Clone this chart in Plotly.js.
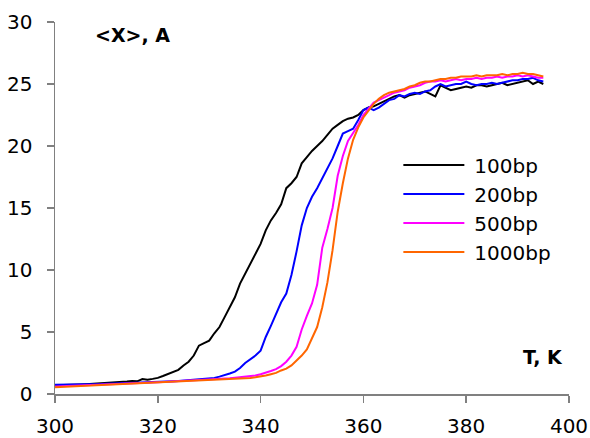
<!DOCTYPE html>
<html>
<head>
<meta charset="utf-8">
<script src="https://cdn.plot.ly/plotly-3.0.1.min.js"></script>
<style>html,body{margin:0;padding:0;background:#fff;}#chart{width:590px;height:438px;}</style>
</head>
<body>
<div id="chart"></div>
<script>
const seriesNames = ["100bp", "200bp", "500bp", "1000bp"];
const seriesColors = ["#000000", "#0000ff", "#ff00ff", "#ff6600"];
const temperature = [];
for (let t = 300; t <= 395; t++) temperature.push(t);

const x100 = [
 0.70,0.70,0.72,0.73,0.75,0.76,0.78,0.80,0.82,0.85,
 0.88,0.92,0.95,0.97,1.00,1.05,1.02,1.20,1.15,1.22,
 1.30,1.45,1.60,1.75,1.95,2.30,2.60,3.10,3.90,4.10,
 4.30,4.90,5.40,6.20,7.00,7.80,8.90,9.70,10.50,11.20,
 12.10,13.20,14.00,14.60,15.30,16.60,17.00,17.50,18.60,19.10,
 19.60,20.00,20.40,20.90,21.40,21.70,22.00,22.20,22.30,22.50,
 22.90,23.10,23.20,23.40,23.60,23.80,24.00,24.10,23.90,24.10,
 24.20,24.30,24.40,24.20,24.00,24.90,24.70,24.50,24.60,24.70,
 24.80,24.70,24.90,24.90,24.80,24.90,25.00,25.10,24.90,25.00,
 25.10,25.20,25.30,25.00,25.20,25.00];
const x200 = [
 0.75,0.75,0.75,0.75,0.76,0.76,0.77,0.78,0.78,0.80,
 0.82,0.83,0.85,0.86,0.88,0.90,0.92,0.93,0.95,0.97,
 1.00,1.00,1.02,1.03,1.05,1.08,1.10,1.12,1.15,1.20,
 1.25,1.30,1.40,1.50,1.65,1.80,2.10,2.50,2.80,3.10,
 3.50,4.60,5.50,6.50,7.40,8.10,9.60,11.50,13.60,15.00,
 15.90,16.60,17.40,18.30,19.00,20.00,21.00,21.20,21.40,22.10,
 22.90,23.10,22.90,23.10,23.40,23.70,23.80,24.10,24.00,24.20,
 24.30,24.20,24.40,24.50,24.80,25.00,24.80,24.90,25.00,25.00,
 25.20,25.00,24.90,25.00,25.00,25.10,25.00,25.10,25.20,25.30,
 25.30,25.40,25.40,25.50,25.30,25.20];
const x500 = [
 0.60,0.62,0.63,0.65,0.66,0.68,0.70,0.71,0.72,0.74,
 0.76,0.78,0.80,0.82,0.84,0.86,0.88,0.90,0.92,0.94,
 0.95,0.96,0.98,1.00,1.02,1.04,1.06,1.08,1.10,1.12,
 1.15,1.18,1.20,1.24,1.28,1.32,1.36,1.40,1.45,1.50,
 1.60,1.70,1.85,2.00,2.25,2.60,3.10,3.80,5.20,6.30,
 7.30,8.80,11.80,13.30,15.00,17.60,19.20,20.40,21.00,21.70,
 22.50,23.00,23.50,23.70,23.90,24.10,24.30,24.40,24.50,24.70,
 24.80,24.90,25.10,25.20,25.20,25.30,25.20,25.30,25.40,25.30,
 25.40,25.40,25.50,25.40,25.50,25.50,25.60,25.50,25.60,25.60,
 25.70,25.60,25.70,25.60,25.50,25.50];
const x1000 = [
 0.55,0.58,0.60,0.62,0.64,0.65,0.67,0.68,0.70,0.72,
 0.73,0.75,0.77,0.78,0.80,0.82,0.84,0.85,0.87,0.88,
 0.90,0.92,0.94,0.96,0.98,1.00,1.02,1.04,1.06,1.08,
 1.10,1.12,1.14,1.16,1.18,1.20,1.23,1.26,1.30,1.35,
 1.40,1.50,1.60,1.70,1.90,2.05,2.30,2.70,3.10,3.60,
 4.50,5.40,7.00,9.00,11.60,14.70,17.00,19.00,20.50,21.50,
 22.30,22.90,23.40,23.80,24.10,24.30,24.40,24.50,24.60,24.80,
 24.90,25.10,25.20,25.20,25.30,25.40,25.40,25.50,25.50,25.60,
 25.60,25.60,25.70,25.60,25.70,25.70,25.70,25.80,25.70,25.80,
 25.80,25.90,25.80,25.80,25.70,25.60];
const seriesValues = [x100, x200, x500, x1000];

const traces = seriesValues.map((ys, i) => ({
  x: temperature, y: ys, type: 'scatter', mode: 'lines',
  name: seriesNames[i],
  line: {color: seriesColors[i], width: 2}
}));

const fam = 'DejaVu Sans, Arial, sans-serif';
const tickFont = {family: fam, size: 20, color: '#000'};
const layout = {
  width: 590, height: 438,
  margin: {l: 55, r: 21, t: 22, b: 44},
  paper_bgcolor: '#fff', plot_bgcolor: '#fff',
  font: tickFont,
  showlegend: true,
  legend: {x: 0.668, y: 0.668, xanchor: 'left', yanchor: 'top',
           bgcolor: 'rgba(0,0,0,0)', borderwidth: 0,
           itemwidth: 66,
           font: {family: fam, size: 20, color: '#000'}},
  xaxis: {range: [300, 400], dtick: 20, showgrid: false, zeroline: false,
          showline: true, linecolor: '#808080', linewidth: 1.5,
          ticks: 'outside', ticklen: 7, tickcolor: '#808080', tickwidth: 1.5,
          ticklabelstandoff: 6, tickfont: tickFont},
  yaxis: {range: [0, 30], dtick: 5, showgrid: false, zeroline: false,
          showline: true, linecolor: '#808080', linewidth: 1.5,
          ticks: 'outside', ticklen: 7, tickcolor: '#808080', tickwidth: 1.5,
          ticklabelstandoff: 10, tickfont: tickFont},
  annotations: [
    {text: '<b>&lt;X&gt;, A</b>', xref: 'paper', yref: 'paper', x: (132-55)/514, y: (394-35)/372,
     xanchor: 'center', yanchor: 'middle', showarrow: false, font: {family: fam, size: 19, color: '#000'}},
    {text: '<b>T, K</b>', xref: 'paper', yref: 'paper', x: (543-55)/514, y: (394-357)/372,
     xanchor: 'center', yanchor: 'middle', showarrow: false, font: {family: fam, size: 19, color: '#000'}}
  ]
};
Plotly.newPlot('chart', traces, layout, {displayModeBar: false, staticPlot: true}).then(function (gd) {
  gd.querySelectorAll('.legend .legendlines path').forEach(function (p) {
    p.setAttribute('d', 'M5,0h61');
  });
});
</script>
</body>
</html>
